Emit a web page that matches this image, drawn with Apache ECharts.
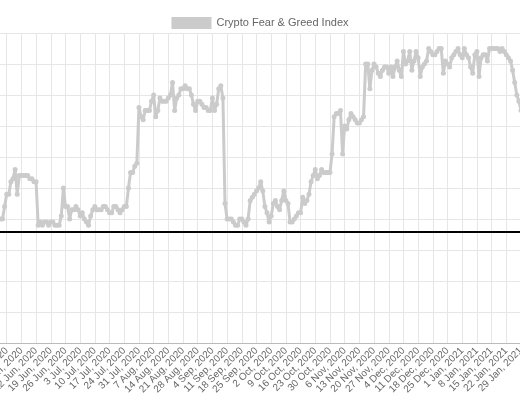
<!DOCTYPE html>
<html><head><meta charset="utf-8">
<script src="https://cdn.jsdelivr.net/npm/echarts@6/dist/echarts.min.js"></script>
<style>html,body{margin:0;padding:0;background:#fff}#c{width:520px;height:400px}</style>
</head><body><div id="c"></div>
<script>
const startDate = [2020, 4, 22];
const dayCount = 253;
const months = ['Jan','Feb','Mar','Apr','May','Jun','Jul','Aug','Sep','Oct','Nov','Dec'];
const categories = [];
for (let i = 0; i < dayCount; i++) {
  const d = new Date(Date.UTC(startDate[0], startDate[1], startDate[2] + i));
  categories.push(d.getUTCDate() + ' ' + months[d.getUTCMonth()] + ', ' + d.getUTCFullYear());
}
const fearGreed = [40,40,41,40,40,40,44,48,48,52,53,56,48,54,54,54,54,54,53,53,52,52,38,39,38,39,39,38,39,39,38,38,38,41,50,44,44,40,43,43,44,43,41,42,40,39,38,41,43,44,43,43,43,44,44,43,42,42,44,44,43,42,43,44,44,50,55,55,57,58,76,73,72,75,75,75,78,80,73,75,79,78,78,78,79,80,84,75,79,80,82,82,83,82,82,80,77,75,78,78,77,76,76,75,75,79,75,77,82,83,79,45,40,40,40,39,38,38,40,40,39,38,40,46,47,48,49,50,52,49,44,42,39,41,45,46,44,43,46,49,46,45,39,39,40,41,42,42,47,45,46,48,52,54,56,53,54,56,55,55,55,55,61,73,74,74,75,61,70,69,72,74,73,72,71,71,72,73,90,90,82,88,90,89,87,86,88,89,89,87,89,86,89,91,88,86,94,90,91,94,88,91,94,92,86,89,90,91,95,94,93,93,94,95,95,87,91,90,89,92,93,94,95,93,92,95,93,92,89,87,93,94,86,92,93,93,91,95,95,95,95,95,94,95,94,93,92,91,88,84,80,78,75];
const referenceLevel = 36;

const chart = echarts.init(document.getElementById('c'));
chart.setOption({
  animation: false,
  legend: {
    top: 12, left: 'center', icon: 'rect', itemWidth: 40, itemHeight: 12,
    textStyle: { color: '#666', fontSize: 11, fontFamily: 'Liberation Sans, Arial' },
    data: ['Crypto Fear & Greed Index']
  },
  grid: { left: -8, right: -1, top: 33, bottom: 57, containLabel: false, outerBoundsMode: 'none' },
  xAxis: {
    type: 'category', data: categories, boundaryGap: false,
    axisLine: { lineStyle: { color: '#bbb' } },
    axisTick: { show: false },
    axisLabel: { interval: 6, rotate: 45, color: '#666', fontSize: 10, fontFamily: 'Liberation Sans, Arial', margin: 6 },
    splitLine: { show: true, interval: 6, lineStyle: { color: '#e6e6e6' } }
  },
  yAxis: {
    type: 'value', min: 0, max: 100, interval: 10,
    axisLabel: { show: false }, axisLine: { show: false }, axisTick: { show: false },
    splitLine: { lineStyle: { color: '#e6e6e6' } }
  },
  series: [{
    name: 'Crypto Fear & Greed Index', type: 'line', data: fearGreed,
    symbol: 'circle', symbolSize: 5, showAllSymbol: true,
    lineStyle: { color: '#cbcbcb', width: 3 },
    itemStyle: { color: '#cbcbcb' },
    markLine: {
      silent: true, symbol: 'none', label: { show: false },
      lineStyle: { color: '#000', width: 2, type: 'solid' },
      data: [{ yAxis: referenceLevel }]
    }
  }]
});
</script></body></html>
